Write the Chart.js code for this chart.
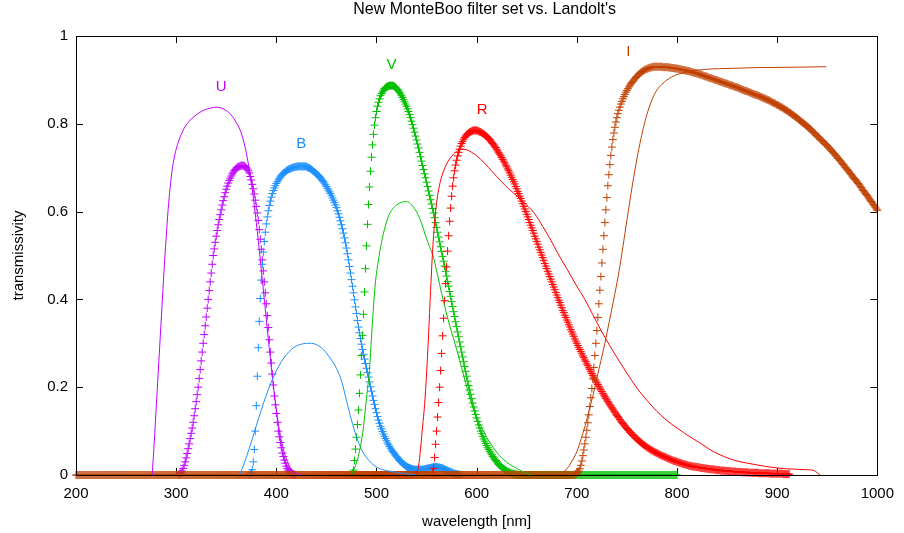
<!DOCTYPE html>
<html lang="en">

<head>
  <meta charset="UTF-8">
  <title>New MonteBoo filter set vs. Landolt's</title>
  <script src="https://cdn.jsdelivr.net/npm/chart.js"></script>
  <style>
    * {
      margin: 0;
      padding: 0;
      box-sizing: border-box;
    }

    body {
      background: #fff;
      width: 904px;
      height: 533px;
      overflow: hidden;
    }

    canvas {
      display: block;
    }
  </style>
</head>

<body>
  <canvas id="filterChart" width="904" height="533"></canvas>

  <script>
    // axis ticks
    const X_TICKS = [200, 300, 400, 500, 600, 700, 800, 900, 1000];
    const Y_TICKS = [0, 0.2, 0.4, 0.6, 0.8, 1];

    // New MonteBoo filters, sampled every 1 nm starting at *_FROM
    const U_FROM = 303;
    const U_T = [0.002, 0.004, 0.006, 0.009, 0.015, 0.022, 0.03, 0.039, 0.049, 0.06,
      0.071, 0.083, 0.095, 0.107, 0.12, 0.135, 0.151, 0.167, 0.183, 0.2,
      0.22, 0.24, 0.26, 0.28, 0.3, 0.32, 0.34, 0.36, 0.38, 0.4,
      0.42, 0.44, 0.46, 0.48, 0.5, 0.515, 0.53, 0.544, 0.557, 0.57,
      0.582, 0.593, 0.604, 0.615, 0.625, 0.634, 0.643, 0.651, 0.658, 0.665,
      0.671, 0.676, 0.681, 0.686, 0.69, 0.693, 0.696, 0.699, 0.701, 0.702,
      0.703, 0.704, 0.705, 0.705, 0.705, 0.704, 0.702, 0.7, 0.697, 0.693,
      0.688, 0.68, 0.672, 0.662, 0.652, 0.64, 0.626, 0.612, 0.597, 0.58,
      0.559, 0.537, 0.514, 0.49, 0.465, 0.44, 0.415, 0.39, 0.363, 0.336,
      0.308, 0.28, 0.255, 0.23, 0.205, 0.18, 0.16, 0.14, 0.12, 0.1,
      0.087, 0.074, 0.062, 0.05, 0.042, 0.034, 0.027, 0.02, 0.015, 0.011,
      0.008, 0.006, 0.004, 0.003, 0.002, 0.001, 0];

    const B_FROM = 374;
    const B_T = [0.002, 0.005, 0.012, 0.03, 0.058, 0.1, 0.158, 0.225, 0.29, 0.35,
      0.402, 0.444, 0.48, 0.508, 0.532, 0.553, 0.572, 0.588, 0.602, 0.614,
      0.624, 0.633, 0.641, 0.648, 0.654, 0.659, 0.664, 0.668, 0.672, 0.676,
      0.679, 0.682, 0.685, 0.687, 0.689, 0.691, 0.693, 0.695, 0.696, 0.697,
      0.698, 0.699, 0.7, 0.701, 0.701, 0.702, 0.702, 0.703, 0.703, 0.703,
      0.703, 0.703, 0.703, 0.703, 0.703, 0.703, 0.702, 0.701, 0.7, 0.699,
      0.698, 0.696, 0.694, 0.692, 0.69, 0.688, 0.686, 0.684, 0.682, 0.68,
      0.677, 0.674, 0.671, 0.668, 0.665, 0.661, 0.657, 0.653, 0.649, 0.645,
      0.641, 0.636, 0.631, 0.626, 0.621, 0.615, 0.609, 0.602, 0.595, 0.587,
      0.579, 0.57, 0.561, 0.551, 0.54, 0.529, 0.517, 0.504, 0.49, 0.475,
      0.46, 0.445, 0.43, 0.415, 0.399, 0.383, 0.368, 0.352, 0.337, 0.324,
      0.311, 0.298, 0.286, 0.275, 0.264, 0.254, 0.243, 0.233, 0.223, 0.212,
      0.201, 0.191, 0.18, 0.17, 0.161, 0.151, 0.142, 0.133, 0.125, 0.118,
      0.111, 0.105, 0.099, 0.093, 0.088, 0.083, 0.078, 0.073, 0.069, 0.065,
      0.061, 0.057, 0.054, 0.051, 0.048, 0.045, 0.042, 0.039, 0.036, 0.033,
      0.031, 0.029, 0.027, 0.025, 0.023, 0.021, 0.019, 0.018, 0.017, 0.016,
      0.015, 0.014, 0.013, 0.013, 0.012, 0.012, 0.012, 0.012, 0.012, 0.012,
      0.012, 0.012, 0.012, 0.013, 0.013, 0.014, 0.014, 0.015, 0.015, 0.016,
      0.016, 0.017, 0.017, 0.018, 0.018, 0.018, 0.018, 0.018, 0.017, 0.017,
      0.016, 0.016, 0.015, 0.014, 0.013, 0.012, 0.011, 0.01, 0.009, 0.008,
      0.007, 0.006, 0.005, 0.004, 0.003, 0.003, 0.002, 0.002, 0.001, 0.001, 0];

    const V_FROM = 476;
    const V_T = [0.004, 0.011, 0.033, 0.059, 0.086, 0.115, 0.148, 0.186, 0.228, 0.272,
      0.318, 0.366, 0.417, 0.47, 0.522, 0.571, 0.616, 0.656, 0.692, 0.724,
      0.752, 0.776, 0.797, 0.814, 0.828, 0.84, 0.849, 0.857, 0.864, 0.869,
      0.873, 0.877, 0.88, 0.882, 0.884, 0.885, 0.886, 0.887, 0.887, 0.887,
      0.887, 0.886, 0.885, 0.883, 0.881, 0.878, 0.875, 0.872, 0.868, 0.864,
      0.86, 0.855, 0.85, 0.845, 0.84, 0.834, 0.828, 0.821, 0.814, 0.806,
      0.798, 0.79, 0.781, 0.772, 0.763, 0.754, 0.745, 0.735, 0.725, 0.715,
      0.705, 0.696, 0.686, 0.677, 0.667, 0.657, 0.647, 0.637, 0.627, 0.617,
      0.607, 0.597, 0.586, 0.575, 0.564, 0.553, 0.542, 0.531, 0.52, 0.509,
      0.498, 0.487, 0.476, 0.464, 0.453, 0.441, 0.43, 0.418, 0.407, 0.395,
      0.384, 0.372, 0.361, 0.349, 0.338, 0.326, 0.315, 0.303, 0.292, 0.28,
      0.269, 0.258, 0.247, 0.236, 0.225, 0.214, 0.204, 0.194, 0.184, 0.174,
      0.164, 0.155, 0.146, 0.138, 0.13, 0.122, 0.114, 0.107, 0.1, 0.094,
      0.088, 0.082, 0.077, 0.072, 0.067, 0.062, 0.058, 0.054, 0.05, 0.046,
      0.042, 0.039, 0.036, 0.033, 0.03, 0.027, 0.024, 0.022, 0.02, 0.018,
      0.016, 0.014, 0.012, 0.011, 0.01, 0.008, 0.007, 0.006, 0.005, 0.004,
      0.003, 0.003, 0.002, 0.002, 0.001, 0.001,
      0, 0, 0, 0, 0, 0, 0, 0, 0, 0, 0, 0, 0, 0, 0, 0, 0, 0, 0, 0,
      0, 0, 0, 0, 0, 0, 0, 0, 0, 0, 0, 0, 0, 0, 0, 0, 0, 0, 0, 0,
      0, 0, 0, 0, 0, 0, 0, 0, 0, 0, 0, 0, 0, 0, 0, 0, 0, 0, 0, 0,
      0, 0, 0, 0, 0, 0, 0, 0, 0, 0, 0, 0, 0, 0, 0, 0, 0, 0, 0, 0,
      0, 0, 0, 0, 0, 0, 0, 0, 0, 0, 0, 0, 0, 0, 0, 0, 0, 0, 0, 0,
      0, 0, 0, 0, 0, 0, 0, 0, 0, 0, 0, 0, 0, 0, 0, 0, 0, 0, 0, 0,
      0, 0, 0, 0, 0, 0, 0, 0, 0, 0, 0, 0, 0, 0, 0, 0, 0, 0, 0, 0,
      0, 0, 0, 0, 0, 0, 0, 0, 0, 0, 0, 0, 0, 0, 0, 0, 0, 0, 0];

    const R_FROM = 556;
    const R_T = [0.005, 0.015, 0.04, 0.07, 0.1, 0.132, 0.165, 0.2, 0.238, 0.277,
      0.317, 0.357, 0.397, 0.436, 0.474, 0.51, 0.545, 0.578, 0.608, 0.635,
      0.658, 0.677, 0.693, 0.706, 0.717, 0.727, 0.735, 0.742, 0.749, 0.755,
      0.76, 0.765, 0.769, 0.772, 0.775, 0.777, 0.779, 0.781, 0.782, 0.783,
      0.784, 0.785, 0.785, 0.785, 0.785, 0.784, 0.783, 0.782, 0.781, 0.78,
      0.778, 0.777, 0.775, 0.773, 0.771, 0.769, 0.766, 0.764, 0.761, 0.758,
      0.755, 0.752, 0.749, 0.746, 0.742, 0.738, 0.734, 0.731, 0.727, 0.723,
      0.719, 0.715, 0.711, 0.706, 0.702, 0.697, 0.693, 0.688, 0.683, 0.678,
      0.673, 0.668, 0.663, 0.657, 0.652, 0.646, 0.641, 0.635, 0.63, 0.624,
      0.618, 0.612, 0.606, 0.6, 0.594, 0.588, 0.582, 0.575, 0.569, 0.563,
      0.557, 0.551, 0.544, 0.538, 0.532, 0.526, 0.519, 0.513, 0.507, 0.501,
      0.495, 0.489, 0.482, 0.476, 0.47, 0.464, 0.458, 0.452, 0.446, 0.44,
      0.434, 0.428, 0.422, 0.416, 0.41, 0.404, 0.398, 0.393, 0.387, 0.381,
      0.375, 0.37, 0.364, 0.359, 0.353, 0.348, 0.342, 0.337, 0.331, 0.326,
      0.321, 0.316, 0.31, 0.305, 0.3, 0.295, 0.29, 0.286, 0.281, 0.276,
      0.271, 0.267, 0.262, 0.258, 0.253, 0.249, 0.244, 0.24, 0.235, 0.231,
      0.227, 0.223, 0.218, 0.214, 0.21, 0.206, 0.202, 0.198, 0.194, 0.19,
      0.186, 0.182, 0.178, 0.175, 0.171, 0.167, 0.164, 0.16, 0.157, 0.153,
      0.15, 0.146, 0.143, 0.139, 0.136, 0.133, 0.13, 0.126, 0.123, 0.12,
      0.117, 0.114, 0.112, 0.109, 0.106, 0.103, 0.101, 0.098, 0.096, 0.093,
      0.091, 0.089, 0.086, 0.084, 0.082, 0.08, 0.078, 0.076, 0.074, 0.072,
      0.07, 0.068, 0.067, 0.065, 0.063, 0.062, 0.06, 0.059, 0.057, 0.056,
      0.055, 0.053, 0.052, 0.051, 0.05, 0.049, 0.047, 0.046, 0.045, 0.044,
      0.043, 0.042, 0.041, 0.04, 0.039, 0.038, 0.037, 0.036, 0.035, 0.034,
      0.033, 0.032, 0.032, 0.031, 0.03, 0.029, 0.028, 0.028, 0.027, 0.026,
      0.025, 0.025, 0.024, 0.023, 0.023, 0.022, 0.021, 0.021, 0.02, 0.02,
      0.019, 0.019, 0.019, 0.018, 0.018, 0.018, 0.017, 0.017, 0.016, 0.016,
      0.016, 0.015, 0.015, 0.015, 0.014, 0.014, 0.014, 0.013, 0.013, 0.013,
      0.013, 0.012, 0.012, 0.012, 0.011, 0.011, 0.011, 0.011, 0.01, 0.01,
      0.01, 0.01, 0.01, 0.009, 0.009, 0.009, 0.009, 0.009, 0.008, 0.008,
      0.008, 0.008, 0.008, 0.007, 0.007, 0.007, 0.007, 0.007, 0.007, 0.006,
      0.006, 0.006, 0.006, 0.006, 0.006, 0.006, 0.005, 0.005, 0.005, 0.005,
      0.005, 0.005, 0.005, 0.005, 0.005, 0.005, 0.004, 0.004, 0.004, 0.004,
      0.004, 0.004, 0.004, 0.004, 0.004, 0.004, 0.004, 0.003, 0.003, 0.003,
      0.003, 0.003, 0.003, 0.003, 0.003, 0.003, 0.003, 0.003, 0.003, 0.003,
      0.002, 0.002, 0.002, 0.002, 0.002, 0.002, 0.002];

    // I is flat zero from 200 nm up to its rise
    const I_LOW_FROM = 200;
    const I_LOW = [0, 0, 0, 0, 0, 0, 0, 0, 0, 0, 0, 0, 0, 0, 0, 0, 0, 0, 0, 0, 0, 0, 0, 0, 0,
      0, 0, 0, 0, 0, 0, 0, 0, 0, 0, 0, 0, 0, 0, 0, 0, 0, 0, 0, 0, 0, 0, 0, 0, 0,
      0, 0, 0, 0, 0, 0, 0, 0, 0, 0, 0, 0, 0, 0, 0, 0, 0, 0, 0, 0, 0, 0, 0, 0, 0,
      0, 0, 0, 0, 0, 0, 0, 0, 0, 0, 0, 0, 0, 0, 0, 0, 0, 0, 0, 0, 0, 0, 0, 0, 0,
      0, 0, 0, 0, 0, 0, 0, 0, 0, 0, 0, 0, 0, 0, 0, 0, 0, 0, 0, 0, 0, 0, 0, 0, 0,
      0, 0, 0, 0, 0, 0, 0, 0, 0, 0, 0, 0, 0, 0, 0, 0, 0, 0, 0, 0, 0, 0, 0, 0, 0,
      0, 0, 0, 0, 0, 0, 0, 0, 0, 0, 0, 0, 0, 0, 0, 0, 0, 0, 0, 0, 0, 0, 0, 0, 0,
      0, 0, 0, 0, 0, 0, 0, 0, 0, 0, 0, 0, 0, 0, 0, 0, 0, 0, 0, 0, 0, 0, 0, 0, 0,
      0, 0, 0, 0, 0, 0, 0, 0, 0, 0, 0, 0, 0, 0, 0, 0, 0, 0, 0, 0, 0, 0, 0, 0, 0,
      0, 0, 0, 0, 0, 0, 0, 0, 0, 0, 0, 0, 0, 0, 0, 0, 0, 0, 0, 0, 0, 0, 0, 0, 0,
      0, 0, 0, 0, 0, 0, 0, 0, 0, 0, 0, 0, 0, 0, 0, 0, 0, 0, 0, 0, 0, 0, 0, 0, 0,
      0, 0, 0, 0, 0, 0, 0, 0, 0, 0, 0, 0, 0, 0, 0, 0, 0, 0, 0, 0, 0, 0, 0, 0, 0,
      0, 0, 0, 0, 0, 0, 0, 0, 0, 0, 0, 0, 0, 0, 0, 0, 0, 0, 0, 0, 0, 0, 0, 0, 0,
      0, 0, 0, 0, 0, 0, 0, 0, 0, 0, 0, 0, 0, 0, 0, 0, 0, 0, 0, 0, 0, 0, 0, 0, 0,
      0, 0, 0, 0, 0, 0, 0, 0, 0, 0, 0, 0, 0, 0, 0, 0, 0, 0, 0, 0, 0, 0, 0, 0, 0,
      0, 0, 0, 0, 0, 0, 0, 0, 0, 0, 0, 0, 0, 0, 0, 0, 0, 0, 0, 0, 0, 0, 0, 0, 0,
      0, 0, 0, 0, 0, 0, 0, 0, 0, 0, 0, 0, 0, 0, 0, 0, 0, 0, 0, 0, 0, 0, 0, 0, 0,
      0, 0, 0, 0, 0, 0, 0, 0, 0, 0, 0, 0, 0, 0, 0, 0, 0, 0, 0, 0, 0, 0, 0, 0, 0,
      0, 0, 0, 0, 0, 0, 0, 0, 0, 0, 0, 0, 0, 0, 0, 0, 0, 0, 0, 0, 0, 0, 0, 0, 0,
      0, 0, 0, 0, 0, 0, 0, 0, 0, 0, 0, 0, 0, 0, 0, 0, 0, 0, 0, 0, 0, 0, 0];

    const I_FROM = 698;
    const I_T = [0.001, 0.002, 0.004, 0.006, 0.009, 0.014, 0.022, 0.032, 0.044, 0.057,
      0.071, 0.086, 0.102, 0.119, 0.137, 0.156, 0.176, 0.197, 0.219, 0.245,
      0.272, 0.3, 0.329, 0.359, 0.39, 0.421, 0.452, 0.483, 0.514, 0.545,
      0.575, 0.604, 0.632, 0.659, 0.684, 0.707, 0.728, 0.747, 0.764, 0.779,
      0.792, 0.804, 0.814, 0.823, 0.831, 0.838, 0.845, 0.851, 0.857, 0.862,
      0.867, 0.872, 0.876, 0.88, 0.884, 0.888, 0.891, 0.894, 0.897, 0.9,
      0.903, 0.906, 0.908, 0.911, 0.913, 0.915, 0.917, 0.919, 0.92, 0.922,
      0.923, 0.924, 0.925, 0.926, 0.927, 0.928, 0.928, 0.929, 0.929, 0.93,
      0.93, 0.93, 0.93, 0.93, 0.93, 0.93, 0.93, 0.93, 0.929, 0.929,
      0.929, 0.929, 0.929, 0.929, 0.928, 0.928, 0.928, 0.927, 0.927, 0.927,
      0.926, 0.926, 0.926, 0.925, 0.925, 0.924, 0.924, 0.923, 0.923, 0.922,
      0.922, 0.921, 0.921, 0.92, 0.92, 0.919, 0.918, 0.918, 0.917, 0.916,
      0.916, 0.915, 0.915, 0.914, 0.913, 0.912, 0.912, 0.911, 0.91, 0.909,
      0.908, 0.908, 0.907, 0.906, 0.905, 0.904, 0.904, 0.903, 0.902, 0.901,
      0.9, 0.9, 0.899, 0.898, 0.897, 0.896, 0.896, 0.895, 0.894, 0.893,
      0.892, 0.892, 0.891, 0.89, 0.889, 0.888, 0.888, 0.887, 0.886, 0.885,
      0.884, 0.884, 0.883, 0.882, 0.881, 0.88, 0.879, 0.878, 0.877, 0.876,
      0.875, 0.875, 0.874, 0.873, 0.872, 0.871, 0.87, 0.869, 0.868, 0.867,
      0.866, 0.866, 0.865, 0.864, 0.863, 0.862, 0.861, 0.86, 0.859, 0.858,
      0.857, 0.856, 0.855, 0.854, 0.853, 0.852, 0.85, 0.849, 0.848, 0.847,
      0.846, 0.844, 0.843, 0.842, 0.841, 0.839, 0.838, 0.837, 0.835, 0.834,
      0.832, 0.831, 0.83, 0.828, 0.826, 0.825, 0.823, 0.821, 0.82, 0.818,
      0.816, 0.815, 0.813, 0.811, 0.809, 0.807, 0.805, 0.803, 0.802, 0.8,
      0.798, 0.796, 0.794, 0.792, 0.79, 0.788, 0.786, 0.783, 0.781, 0.779,
      0.777, 0.774, 0.772, 0.77, 0.768, 0.765, 0.763, 0.761, 0.759, 0.756,
      0.754, 0.752, 0.75, 0.747, 0.745, 0.742, 0.74, 0.737, 0.734, 0.732,
      0.729, 0.727, 0.724, 0.721, 0.718, 0.716, 0.713, 0.71, 0.707, 0.704,
      0.701, 0.699, 0.696, 0.693, 0.69, 0.687, 0.684, 0.681, 0.678, 0.675,
      0.673, 0.67, 0.667, 0.664, 0.661, 0.658, 0.655, 0.651, 0.648, 0.645,
      0.642, 0.639, 0.636, 0.633, 0.629, 0.626, 0.623, 0.62, 0.616, 0.613,
      0.61, 0.606, 0.603];

    // Landolt's filters (thin lines)
    const U_LAND_NM = [276, 278, 280, 282, 284, 286, 288, 290, 292, 294, 296, 298, 300, 304, 308, 312, 316, 320,
      325, 330, 335, 340, 345, 350, 355, 360, 364, 368, 372, 376, 380, 384, 388, 392, 396, 400, 404, 408, 412, 416, 420, 425];
    const U_LAND_T = [0, 0.07, 0.15, 0.23, 0.31, 0.39, 0.47, 0.54, 0.605, 0.655, 0.695, 0.722, 0.742, 0.77, 0.79, 0.803, 0.813, 0.82,
      0.828, 0.833, 0.836, 0.838, 0.836, 0.83, 0.82, 0.803, 0.785, 0.755, 0.71, 0.65, 0.575, 0.49, 0.4, 0.31, 0.225, 0.15, 0.09, 0.05, 0.025, 0.01, 0.004, 0];

    const B_LAND_NM = [363, 366, 370, 375, 380, 385, 390, 395, 400, 405, 410, 415, 420, 425, 430, 435, 440, 445,
      450, 455, 460, 465, 470, 475, 480, 485, 490, 495, 500, 505, 510, 515, 520, 530, 540];
    const B_LAND_T = [0, 0.015, 0.04, 0.075, 0.112, 0.148, 0.182, 0.212, 0.237, 0.258, 0.274, 0.286, 0.294, 0.298, 0.3, 0.3, 0.297, 0.29,
      0.278, 0.262, 0.243, 0.215, 0.17, 0.125, 0.087, 0.058, 0.04, 0.027, 0.018, 0.013, 0.01, 0.008, 0.006, 0.003, 0];

    const V_LAND_NM = [475, 478, 481, 484, 487, 490, 493, 496, 499, 502, 505, 508, 512, 516, 520, 525, 529, 533, 537, 541, 545, 549,
      553, 557, 561, 565, 569, 573, 577, 581, 585, 589, 593, 597, 601, 605, 609, 613, 617, 621, 625, 629, 633, 637, 641, 645, 650, 655];
    const V_LAND_T = [0, 0.015, 0.035, 0.065, 0.11, 0.175, 0.24, 0.35, 0.44, 0.49, 0.53, 0.56, 0.59, 0.606, 0.615, 0.621, 0.623, 0.62, 0.61, 0.595, 0.573, 0.545,
      0.52, 0.495, 0.455, 0.414, 0.376, 0.341, 0.31, 0.278, 0.245, 0.21, 0.177, 0.148, 0.127, 0.108, 0.09, 0.075, 0.061, 0.049, 0.039, 0.031, 0.024, 0.019, 0.014, 0.009, 0.003, 0];

    const R_LAND_NM = [538, 540, 542, 544, 546, 548, 550, 552, 554, 556, 558, 560, 562, 565, 570, 575, 580, 585, 590, 595, 600,
      608, 616, 624, 632, 641, 649, 658, 666, 674, 681, 690, 700, 708, 716, 724, 732, 740, 750, 760, 770, 780, 790, 800,
      813, 825, 835, 847, 858, 870, 880, 890, 900, 910, 920, 930, 937, 940, 943];
    const R_LAND_T = [0, 0.005, 0.02, 0.06, 0.11, 0.16, 0.23, 0.32, 0.42, 0.51, 0.575, 0.62, 0.65, 0.679, 0.708, 0.726, 0.737, 0.742, 0.741, 0.735, 0.727,
      0.71, 0.69, 0.67, 0.652, 0.634, 0.617, 0.595, 0.566, 0.535, 0.505, 0.47, 0.43, 0.4, 0.365, 0.33, 0.298, 0.268, 0.232, 0.198, 0.17, 0.145, 0.124, 0.107,
      0.087, 0.07, 0.055, 0.042, 0.033, 0.027, 0.023, 0.019, 0.016, 0.014, 0.013, 0.012, 0.01, 0.005, 0];

    const I_LAND_NM = [678, 684, 688, 692, 696, 700, 704, 708, 712, 716, 720, 724, 728, 732, 736, 740, 744, 748, 752, 756, 760,
      764, 768, 772, 776, 780, 785, 790, 795, 800, 810, 820, 835, 850, 880, 920, 949];
    const I_LAND_T = [0, 0.003, 0.009, 0.02, 0.035, 0.053, 0.08, 0.11, 0.145, 0.18, 0.22, 0.26, 0.3, 0.345, 0.39, 0.437, 0.49, 0.55, 0.61, 0.668, 0.72,
      0.766, 0.805, 0.836, 0.86, 0.877, 0.89, 0.9, 0.907, 0.912, 0.918, 0.922, 0.925, 0.926, 0.928, 0.929, 0.93];

    // band name labels
    const LABEL_TEXT = ['U', 'B', 'V', 'R', 'I'];
    const LABEL_NM = [345, 425, 515, 605.5, 751.5];
    const LABEL_T = [0.884, 0.754, 0.934, 0.831, 0.964];

    const COLORS = ['#c000ff', '#1e90ff', '#00c000', '#ff0000', '#c04000'];
    const FONT = "'Liberation Sans', Arial, sans-serif";
    const TITLE = "New MonteBoo filter set vs. Landolt's";

    // 1 nm sampled series -> points
    function sampled(from, vals) {
      return vals.map((t, i) => ({ x: from + i, y: t }));
    }

    function paired(nm, t) {
      return nm.map((x, i) => ({ x: x, y: t[i] }));
    }

    function crosses(points, color, order) {
      return {
        data: points,
        showLine: false,
        pointStyle: 'cross',
        pointRadius: 4,
        pointBorderWidth: 1,
        borderColor: color,
        backgroundColor: color,
        clip: false,
        order: order
      };
    }

    function landolt(points, color, order) {
      return {
        data: points,
        showLine: true,
        pointRadius: 0,
        borderWidth: 1,
        borderColor: color,
        backgroundColor: color,
        cubicInterpolationMode: 'monotone',
        clip: false,
        order: order
      };
    }

    // frame, inward ticks, band letters and title
    const framePlugin = {
      id: 'frame',
      beforeDatasetsDraw(chart) {
        const { ctx, chartArea: a, scales } = chart;
        ctx.save();
        ctx.strokeStyle = '#000';
        ctx.lineWidth = 1;
        ctx.beginPath();
        X_TICKS.forEach(v => {
          const px = Math.round(scales.x.getPixelForValue(v)) + 0.5;
          ctx.moveTo(px, a.bottom);
          ctx.lineTo(px, a.bottom - 7);
          ctx.moveTo(px, a.top);
          ctx.lineTo(px, a.top + 7);
        });
        Y_TICKS.forEach(v => {
          const py = Math.round(scales.y.getPixelForValue(v)) + 0.5;
          ctx.moveTo(a.left, py);
          ctx.lineTo(a.left + 7, py);
          ctx.moveTo(a.right, py);
          ctx.lineTo(a.right - 7, py);
        });
        ctx.stroke();
        ctx.restore();
      },
      afterDatasetsDraw(chart) {
        const { ctx, chartArea: a, scales } = chart;
        ctx.save();
        ctx.strokeStyle = '#000';
        ctx.lineWidth = 1;
        ctx.strokeRect(Math.round(a.left) + 0.5, Math.round(a.top) + 0.5,
          Math.round(a.right - a.left), Math.round(a.bottom - a.top));

        ctx.font = '15px ' + FONT;
        ctx.textAlign = 'center';
        ctx.textBaseline = 'middle';
        LABEL_TEXT.forEach((txt, i) => {
          ctx.fillStyle = COLORS[i];
          ctx.fillText(txt, scales.x.getPixelForValue(LABEL_NM[i]), scales.y.getPixelForValue(LABEL_T[i]));
        });

        // title sits a little right of the plot centre, as in the original
        ctx.font = '16px ' + FONT;
        ctx.fillStyle = '#000';
        ctx.fillText(TITLE, (a.left + a.right) / 2 + 8, 10);
        ctx.restore();
      }
    };

    const datasets = [
      crosses(sampled(U_FROM, U_T), COLORS[0], 10),
      crosses(sampled(B_FROM, B_T), COLORS[1], 9),
      crosses(sampled(V_FROM, V_T), COLORS[2], 8),
      crosses(sampled(R_FROM, R_T), COLORS[3], 7),
      crosses(sampled(I_LOW_FROM, I_LOW), COLORS[4], 6),
      crosses(sampled(I_FROM, I_T), COLORS[4], 6),
      landolt(paired(U_LAND_NM, U_LAND_T), COLORS[0], 5),
      landolt(paired(B_LAND_NM, B_LAND_T), COLORS[1], 4),
      landolt(paired(V_LAND_NM, V_LAND_T), COLORS[2], 3),
      landolt(paired(R_LAND_NM, R_LAND_T), COLORS[3], 2),
      landolt(paired(I_LAND_NM, I_LAND_T), COLORS[4], 1)
    ];

    const axisFont = { family: FONT, size: 15 };

    new Chart(document.getElementById('filterChart'), {
      type: 'scatter',
      data: { datasets: datasets },
      options: {
        responsive: false,
        animation: false,
        devicePixelRatio: 1,
        events: [],
        layout: { padding: { top: 36, right: 23, left: 0, bottom: 0 } },
        plugins: {
          legend: { display: false },
          tooltip: { enabled: false }
        },
        scales: {
          x: {
            type: 'linear',
            min: 200,
            max: 1000,
            afterBuildTicks: scale => { scale.ticks = X_TICKS.map(v => ({ value: v })); },
            afterFit: scale => { scale.height = 58; },
            grid: { display: false, drawTicks: false },
            border: { display: false },
            ticks: { color: '#000', font: axisFont, padding: 10, maxRotation: 0, autoSkip: false, callback: v => String(v) },
            title: { display: true, text: 'wavelength [nm]', color: '#000', font: axisFont, padding: { top: 0, bottom: 2 } }
          },
          y: {
            type: 'linear',
            min: 0,
            max: 1,
            afterBuildTicks: scale => { scale.ticks = Y_TICKS.map(v => ({ value: v })); },
            afterFit: scale => { scale.width = 76; },
            grid: { display: false, drawTicks: false },
            border: { display: false },
            ticks: { color: '#000', font: axisFont, padding: 8, autoSkip: false, callback: v => String(v) },
            title: { display: true, text: 'transmissivity', color: '#000', font: axisFont, padding: { top: 10, bottom: 0 } }
          }
        }
      },
      plugins: [framePlugin]
    });
  </script>
</body>

</html>
